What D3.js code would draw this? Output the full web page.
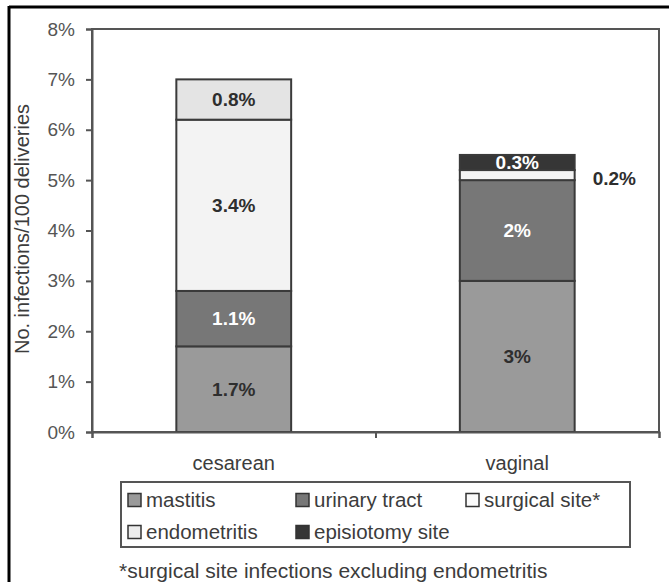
<!DOCTYPE html>
<html>
<head>
<meta charset="utf-8">
<script src="https://cdn.jsdelivr.net/npm/d3@7/dist/d3.min.js"></script>
<style>
  html, body { margin: 0; padding: 0; background: #fff; }
  svg { display: block; font-family: "Liberation Sans", Arial, Helvetica, sans-serif; }
</style>
</head>
<body>
<svg id="chart" width="669" height="582"></svg>
<script>
// Delivery types on the x axis
const categories = ["cesarean", "vaginal"];

// Infection types, stacked bottom to top
const seriesNames = ["mastitis", "urinary tract", "surgical site*", "endometritis", "episiotomy site"];

// Infections per 100 deliveries (%), one value per delivery type
const mastitis = [1.7, 3];
const urinaryTract = [1.1, 2];
const surgicalSite = [3.4, 0.2];
const endometritis = [0.8, 0];
const episiotomySite = [0, 0.3];

// Y axis ticks (%)
const yTicks = [0, 1, 2, 3, 4, 5, 6, 7, 8];

const seriesValues = [mastitis, urinaryTract, surgicalSite, endometritis, episiotomySite];
const fills = ["#9a9a9a", "#777777", "#f3f3f3", "#e4e4e4", "#363636"];
const legendFills = ["#9a9a9a", "#777777", "#fbfbfb", "#ececec", "#363636"];
const labelColors = ["#2e2e2e", "#ffffff", "#2e2e2e", "#2e2e2e", "#ffffff"];

const svg = d3.select("#chart");

// outer frame (top and left edges)
svg.append("line").attr("x1", 9).attr("x2", 669).attr("y1", 7).attr("y2", 7)
  .attr("stroke", "#000").attr("stroke-width", 3);
svg.append("line").attr("x1", 9).attr("x2", 9).attr("y1", 6).attr("y2", 582)
  .attr("stroke", "#000").attr("stroke-width", 3);

const plot = { left: 92, right: 659, top: 29, bottom: 432 };

const x = d3.scaleBand().domain(categories).range([plot.left, plot.right]).padding(0);
const y = d3.scaleLinear().domain([0, 8]).range([plot.bottom, plot.top]);
const barW = x.bandwidth() * 0.405;

// stacked data
const table = categories.map((c, i) => {
  const row = { category: c };
  seriesNames.forEach((s, k) => { row[s] = seriesValues[k][i]; });
  return row;
});
const stacked = d3.stack().keys(seriesNames)(table);
const segValue = d => d[1] - d[0];
const isThin = d => segValue(d) < 0.25;

// plot frame (top and right)
svg.append("rect")
  .attr("x", plot.left).attr("y", plot.top)
  .attr("width", plot.right - plot.left).attr("height", plot.bottom - plot.top)
  .attr("fill", "none").attr("stroke", "#555").attr("stroke-width", 2);

// bars
stacked.forEach((layer, k) => {
  svg.append("g").selectAll("rect")
    .data(layer.filter(d => segValue(d) > 0))
    .join("rect")
    .attr("x", d => x(d.data.category) + (x.bandwidth() - barW) / 2)
    .attr("y", d => y(d[1]))
    .attr("width", barW)
    .attr("height", d => y(d[0]) - y(d[1]))
    .attr("fill", fills[k])
    .attr("stroke", "#3a3a3a")
    .attr("stroke-width", 2);
});

// value labels (thin segments are labelled beside the bar)
stacked.forEach((layer, k) => {
  svg.append("g").selectAll("text")
    .data(layer.filter(d => segValue(d) > 0))
    .join("text")
    .attr("x", d => {
      const cx = x(d.data.category) + x.bandwidth() / 2;
      return isThin(d) ? cx + barW / 2 + 18 : cx;
    })
    .attr("y", d => y((d[0] + d[1]) / 2) + (isThin(d) ? 3 : 0))
    .attr("dy", "0.36em")
    .attr("text-anchor", d => isThin(d) ? "start" : "middle")
    .attr("fill", d => isThin(d) ? "#2e2e2e" : labelColors[k])
    .attr("font-weight", "bold")
    .attr("font-size", 19)
    .text(d => d3.format("~g")(+segValue(d).toFixed(1)) + "%");
});

// y axis
const yAxis = svg.append("g")
  .attr("transform", `translate(${plot.left},0)`)
  .call(d3.axisLeft(y).tickValues(yTicks).tickSize(6).tickPadding(11).tickFormat(d => d + "%"));
yAxis.select(".domain").attr("stroke", "#555").attr("stroke-width", 2);
yAxis.selectAll(".tick line").attr("stroke", "#555").attr("stroke-width", 2);
yAxis.selectAll(".tick text").attr("font-size", 19).attr("fill", "#555")
  .attr("font-family", "\"Liberation Sans\", Arial, sans-serif");

// x axis with ticks at category boundaries
const xb = d3.scaleLinear().domain([0, categories.length]).range([plot.left, plot.right]);
const xAxis = svg.append("g")
  .attr("transform", `translate(0,${plot.bottom})`)
  .call(d3.axisBottom(xb).tickValues(d3.range(categories.length + 1)).tickSize(6).tickFormat(""));
xAxis.select(".domain").attr("stroke", "#555").attr("stroke-width", 2);
xAxis.selectAll(".tick line").attr("stroke", "#555").attr("stroke-width", 2);

svg.append("g").selectAll("text")
  .data(categories)
  .join("text")
  .attr("x", d => x(d) + x.bandwidth() / 2)
  .attr("y", 463)
  .attr("dy", "0.36em")
  .attr("text-anchor", "middle")
  .attr("font-size", 20)
  .attr("fill", "#3c3c3c")
  .text(d => d);

// y axis title
svg.append("text")
  .attr("transform", "translate(22,229) rotate(-90)")
  .attr("text-anchor", "middle")
  .attr("dy", "0.36em")
  .attr("font-size", 20)
  .attr("fill", "#3c3c3c")
  .text("No. infections/100 deliveries");

// legend
const legend = svg.append("g");
legend.append("rect")
  .attr("x", 121).attr("y", 482).attr("width", 509).attr("height", 65)
  .attr("fill", "#fff").attr("stroke", "#555").attr("stroke-width", 2);
const colX = [128, 296, 466];
const rowY = [500, 532];
const items = legend.selectAll("g.item")
  .data(seriesNames)
  .join("g")
  .attr("class", "item")
  .attr("transform", (d, i) => `translate(${colX[i % 3]},${rowY[Math.floor(i / 3)]})`);
items.append("rect")
  .attr("x", 0).attr("y", -6.5).attr("width", 13).attr("height", 13)
  .attr("fill", (d, i) => legendFills[i])
  .attr("stroke", "#333").attr("stroke-width", 1.5);
items.append("text")
  .attr("x", 18).attr("dy", "0.36em")
  .attr("font-size", 20.5).attr("fill", "#3c3c3c")
  .text(d => d);

// footnote
svg.append("text")
  .attr("x", 119).attr("y", 570).attr("dy", "0.36em")
  .attr("font-size", 21).attr("fill", "#3c3c3c")
  .text("*surgical site infections excluding endometritis");
</script>
</body>
</html>
